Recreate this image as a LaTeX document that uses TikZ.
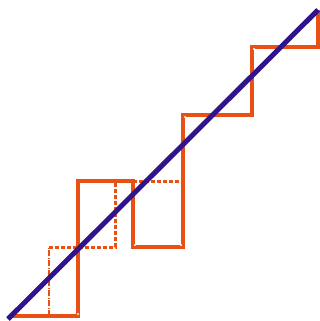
\documentclass[tikz,border=0pt]{standalone}
\begin{document}
\definecolor{stairc}{RGB}{232,80,20}
\definecolor{diagc}{RGB}{48,20,140}
\begin{tikzpicture}[x=1pt,y=-1pt,
  stair/.style={draw=stairc,line width=4.5pt,line join=miter},
  dstair/.style={draw=stairc,line width=3pt,dash pattern=on 4pt off 2pt},
  thin dd/.style={draw=stairc,line width=1.3pt,dash pattern=on 6pt off 1.5pt on 1pt off 1.5pt},
  diag/.style={draw=diagc,line width=5pt},
  dot/.style={circle,fill=white,inner sep=0pt,minimum size=2.2pt}]
\useasboundingbox (0,0) rectangle (320,321);
\coordinate (s0) at (10,316);
\coordinate (s1) at (78,316);
\coordinate (s2) at (78,181);
\coordinate (s3) at (133,181);
\coordinate (s4) at (133,247);
\coordinate (s5) at (183,247);
\coordinate (s6) at (183,115);
\coordinate (s7) at (252,115);
\coordinate (s8) at (252,47);
\coordinate (s9) at (318,47);
\coordinate (s10) at (318,10);
\coordinate (d0) at (49,316);
\coordinate (d1) at (49,247);
\coordinate (d2) at (115,247);
\coordinate (d3) at (115,181);
\coordinate (d4) at (183,181);
\draw[thin dd] (d0) -- (d1);
\draw[dstair] (d1) -- (d2) -- (d3) -- (d4);
\draw[stair] (s0) -- (s1) -- (s2) -- (s3) -- (s4) -- (s5) -- (s6) -- (s7) -- (s8) -- (s9) -- (s10);
\node[dot] (p1) at (78,314) {};
\node[dot] (p2) at (135,245) {};
\node[dot] (p3) at (181,245) {};
\node[dot] (p4) at (185,117) {};
\node[dot] (p5) at (254,49) {};
\coordinate (a) at (8,319);
\coordinate (b) at (318,10);
\draw[diag] (a) -- (b);
\end{tikzpicture}
\end{document}
